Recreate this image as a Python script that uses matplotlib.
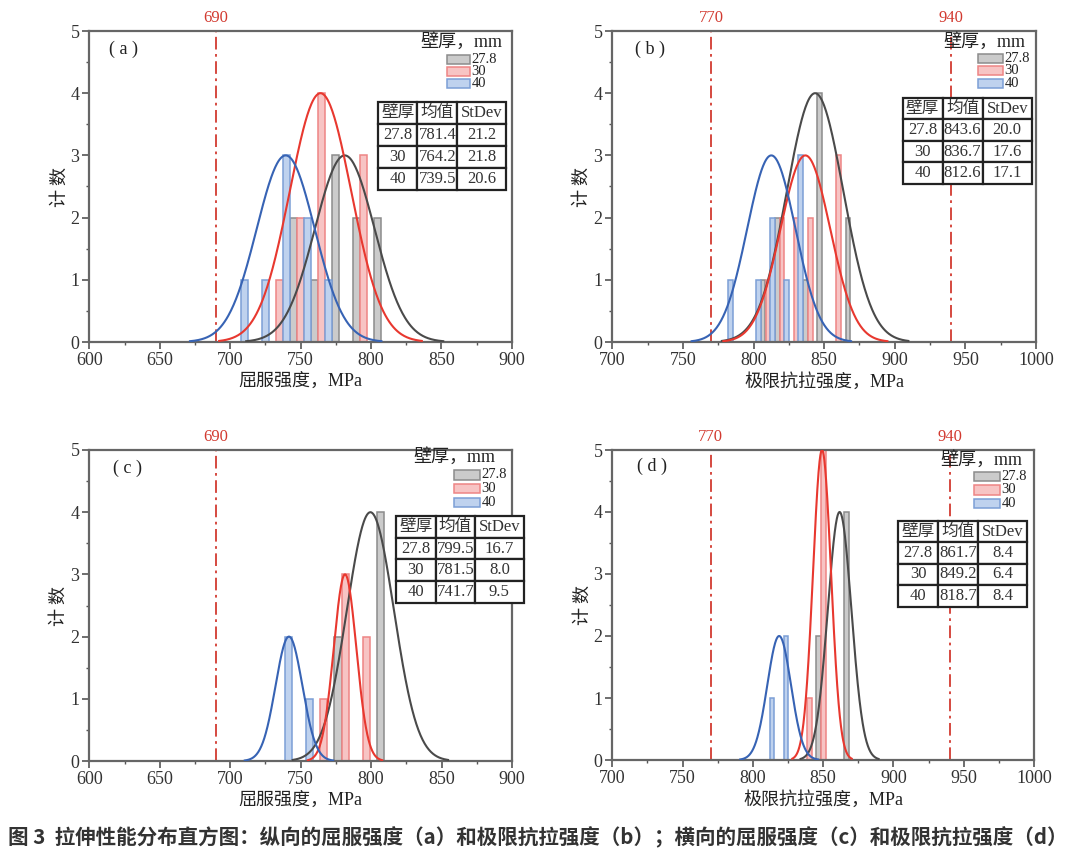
import numpy as np
import matplotlib
matplotlib.use('Agg')
import matplotlib.pyplot as plt
from matplotlib.patches import Rectangle
from matplotlib.ticker import MultipleLocator
import matplotlib.transforms as mtransforms

SERIF = ['Liberation Serif', 'Noto Sans CJK SC']
CJK = ['Noto Sans CJK SC', 'Liberation Serif']

wall = ['27.8', '30', '40']

# (a) 纵向 屈服强度
a_gray_x = [745, 760, 775, 790, 805]
a_gray_n = [2, 1, 3, 2, 2]
a_red_x = [735, 750, 765, 795]
a_red_n = [1, 2, 4, 3]
a_blue_x = [710, 725, 740, 755, 770]
a_blue_n = [1, 1, 3, 2, 1]
a_mean = [781.4, 764.2, 739.5]
a_std = [21.2, 21.8, 20.6]

# (b) 纵向 极限抗拉强度
b_gray_x = [806.8, 816.8, 836.8, 846.8, 866.8]
b_gray_n = [1, 2, 1, 4, 2]
b_red_x = [810.2, 820.2, 830.2, 840.2, 860.2]
b_red_n = [1, 2, 2, 2, 3]
b_blue_x = [783.5, 803.5, 813.5, 823.5, 833.5]
b_blue_n = [1, 1, 2, 1, 3]
b_mean = [843.6, 836.7, 812.6]
b_std = [20.0, 17.6, 17.1]

# (c) 横向 屈服强度
c_gray_x = [776.5, 806.5]
c_gray_n = [2, 4]
c_red_x = [766.5, 781.5, 796.5]
c_red_n = [1, 3, 2]
c_blue_x = [741.5, 756.5]
c_blue_n = [2, 1]
c_mean = [799.5, 781.5, 741.7]
c_std = [16.7, 8.0, 9.5]

# (d) 横向 极限抗拉强度
d_gray_x = [846.8, 866.8]
d_gray_n = [2, 4]
d_red_x = [840.2, 850.2]
d_red_n = [1, 5]
d_blue_x = [813.5, 823.5]
d_blue_n = [1, 2]
d_mean = [861.7, 849.2, 818.7]
d_std = [8.4, 6.4, 8.4]

face = ['#cbcbcb', '#f7c4c4', '#bfd2ee']
edge = ['#8c8c8c', '#ee8585', '#7c9fd6']
line = ['#4a4a4a', '#e8382f', '#3763b4']
vcol = '#d23a30'

fig = plt.figure(figsize=(10.8, 8.63), dpi=100)


def panel(rect, xs, ns, mean, std, width, xlim, xticks, refs, xlabel, tag,
          tab_box, leg):
    ax = fig.add_axes(rect)
    for i in range(3):
        ax.bar(xs[i], ns[i], width=width, color=face[i], edgecolor=edge[i],
               linewidth=1.1, zorder=2)
    for i in range(3):
        x = np.linspace(mean[i] - 3.3 * std[i], mean[i] + 3.3 * std[i], 300)
        y = max(ns[i]) * np.exp(-(x - mean[i]) ** 2 / (2 * std[i] ** 2))
        ax.plot(x, y, color=line[i], lw=1.5, zorder=3)
    trans = mtransforms.blended_transform_factory(ax.transData, ax.transAxes)
    for r in refs:
        ax.axvline(r, color=vcol, lw=1.3, ls=(0, (7, 2.5, 1.5, 2.5)), zorder=1)
        ax.text(r, 1.015, str(r), transform=trans, ha='center', va='bottom',
                color=vcol, fontsize=12, family=SERIF)
    ax.set_xlim(*xlim)
    ax.set_ylim(0, 5)
    ax.set_xticks(xticks)
    ax.xaxis.set_minor_locator(MultipleLocator(25))
    ax.yaxis.set_major_locator(MultipleLocator(1))
    ax.yaxis.set_minor_locator(MultipleLocator(0.5))
    ax.tick_params(which='major', direction='out', length=5, width=1.2,
                   color='#555555', labelsize=13, pad=2)
    ax.tick_params(which='minor', direction='out', length=2.5, width=1.0,
                   color='#555555')
    for lab in ax.get_xticklabels() + ax.get_yticklabels():
        lab.set_fontfamily(SERIF)
        lab.set_color('#333333')
    for s in ax.spines.values():
        s.set_color('#666666')
        s.set_linewidth(1.6)
    ax.set_xlabel(xlabel, fontsize=13, family=SERIF, color='#222222', labelpad=3)
    ax.set_ylabel('计 数', fontsize=13, family=CJK, color='#222222')
    ax.yaxis.set_label_coords(-0.05, 0.5)
    ax.text(tag[1], tag[2], tag[0], transform=ax.transAxes, fontsize=13,
            family=SERIF, ha='center', va='center', color='#222222')

    # legend
    lx0, lx1, ly, ty, tx = leg
    ax.text(tx, ty, '壁厚，mm', transform=ax.transAxes, ha='right', va='center',
            fontsize=13, family=SERIF, color='#222222')
    for i in range(3):
        yc = ly[i]
        ax.add_patch(Rectangle((lx0, yc - 0.015), lx1 - lx0, 0.030,
                               transform=ax.transAxes, facecolor=face[i],
                               edgecolor=edge[i], lw=1.1, clip_on=False, zorder=5))
        ax.text(lx1 + 0.004, yc, wall[i], transform=ax.transAxes, ha='left',
                va='center', fontsize=10.5, family=SERIF, color='#222222')

    # stats table
    cells = [['壁厚', '均值', 'StDev']]
    for i in range(3):
        cells.append([wall[i], f'{mean[i]:.1f}', f'{std[i]:.1f}'])
    tb = ax.table(cellText=cells, bbox=tab_box, colWidths=[0.31, 0.31, 0.38],
                  cellLoc='center', zorder=6)
    tb.auto_set_font_size(False)
    tb.set_fontsize(12)
    for cell in tb.get_celld().values():
        cell.set_edgecolor('#222222')
        cell.set_linewidth(1.6)
        cell.set_facecolor('white')
        cell.get_text().set_fontfamily(SERIF)
        cell.get_text().set_color('#333333')
    return ax


H = 863.0
W = 1080.0
legA = (0.847, 0.901, [0.908, 0.870, 0.832], 0.965, 0.977)
panel([89.3 / W, (H - 342) / H, 422.4 / W, 311 / H],
      [a_gray_x, a_red_x, a_blue_x], [a_gray_n, a_red_n, a_blue_n],
      a_mean, a_std, 5, (600, 900), range(600, 901, 50), [690],
      '屈服强度，MPa', ('( a )', 0.082, 0.94),
      [0.683, 0.489, 0.303, 0.283], legA)

legB = (0.863, 0.922, [0.912, 0.872, 0.832], 0.965, 0.974)
panel([612.3 / W, (H - 342) / H, 423.7 / W, 311 / H],
      [b_gray_x, b_red_x, b_blue_x], [b_gray_n, b_red_n, b_blue_n],
      b_mean, b_std, 3.33, (700, 1000), range(700, 1001, 50), [770, 940],
      '极限抗拉强度，MPa', ('( b )', 0.09, 0.94),
      [0.685, 0.508, 0.305, 0.277], legB)

legC = (0.863, 0.924, [0.920, 0.876, 0.832], 0.977, 0.96)
panel([89.3 / W, (H - 761) / H, 422.7 / W, 311 / H],
      [c_gray_x, c_red_x, c_blue_x], [c_gray_n, c_red_n, c_blue_n],
      c_mean, c_std, 5, (600, 900), range(600, 901, 50), [690],
      '屈服强度，MPa', ('( c )', 0.09, 0.942),
      [0.7256, 0.508, 0.302, 0.280], legC)

legD = (0.858, 0.919, [0.914, 0.871, 0.828], 0.968, 0.972)
panel([612.3 / W, (H - 760) / H, 421.7 / W, 310 / H],
      [d_gray_x, d_red_x, d_blue_x], [d_gray_n, d_red_n, d_blue_n],
      d_mean, d_std, 3.33, (700, 1000), range(700, 1001, 50), [770, 940],
      '极限抗拉强度，MPa', ('( d )', 0.094, 0.948),
      [0.678, 0.495, 0.305, 0.276], legD)

fig.text(8 / W, 1 - 838 / H,
         '图 3  拉伸性能分布直方图：纵向的屈服强度（a）和极限抗拉强度（b）；'
         '横向的屈服强度（c）和极限抗拉强度（d）',
         fontsize=14.8, family=CJK, weight='bold', color='#333333',
         ha='left', va='center')

fig.savefig('out.png', dpi=100)
